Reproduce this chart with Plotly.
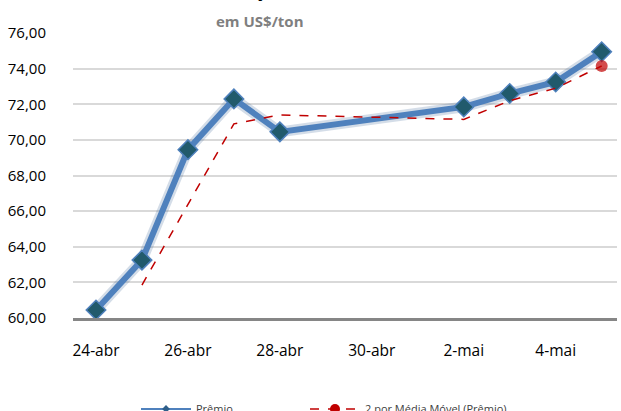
import plotly.graph_objects as go

# ---- data ----
dates = ["2017-04-24", "2017-04-25", "2017-04-26", "2017-04-27", "2017-04-28",
         "2017-05-02", "2017-05-03", "2017-05-04", "2017-05-05"]
premio = [60.45, 63.25, 69.45, 72.30, 70.45, 71.85, 72.60, 73.25, 74.95]
media_movel = [None, 61.85, 66.35, 70.90, 71.40, 71.15, 72.20, 72.90, 74.15]
mm_marker_sizes = [0, 0, 0, 0, 0, 0, 0, 0, 12]
tick_dates = ["2017-04-24", "2017-04-26", "2017-04-28", "2017-04-30", "2017-05-02", "2017-05-04"]
tick_labels = ["24-abr", "26-abr", "28-abr", "30-abr", "2-mai", "4-mai"]
y_ticks = [60, 62, 64, 66, 68, 70, 72, 74, 76]
name_premio = "Prêmio"
name_mm = "2 por Média Móvel (Prêmio)"
subtitle = "em US$/ton"
title = "Cotação"

W, H = 621, 411
L, R, T, B = 73, 4, 33, 93
plot_h = H - T - B

def py(px):
    # pixel row -> paper y
    return 1 - (px - T) / plot_h

def px_x(px):
    return (px - L) / (W - L - R)

fig = go.Figure()

# soft glow under main line
fig.add_trace(go.Scatter(x=dates, y=premio, mode="lines",
                         line=dict(color="rgba(60,100,150,0.22)", width=11),
                         hoverinfo="skip", showlegend=False))
fig.add_trace(go.Scatter(x=dates, y=premio, mode="lines+markers",
                         line=dict(color="#4F81BD", width=6),
                         marker=dict(symbol="diamond", size=15, color="#215A6C",
                                     line=dict(color="#4F81BD", width=1.5)),
                         showlegend=False, cliponaxis=False))
fig.add_trace(go.Scatter(x=dates, y=media_movel, mode="lines+markers",
                         line=dict(color="#C00000", width=1.5, dash="dash"),
                         marker=dict(symbol="circle", size=mm_marker_sizes, color="#C00000",
                                     line=dict(width=0)),
                         showlegend=False, cliponaxis=False))

# legend entries
fig.add_trace(go.Scatter(x=[None], y=[None], mode="lines+markers", name=name_premio,
                         line=dict(color="#4F81BD", width=2),
                         marker=dict(symbol="diamond", size=6, color="#2E5F8A"),
                         legend="legend"))
fig.add_trace(go.Scatter(x=[None], y=[None], mode="lines+markers", name=name_mm,
                         line=dict(color="#C00000", width=1.5, dash="dash"),
                         marker=dict(symbol="circle", size=10, color="#C00000"),
                         legend="legend2"))

fig.add_annotation(text="<b>%s</b>" % subtitle, xref="paper", yref="paper",
                   x=px_x(260), y=py(21), xanchor="center", yanchor="middle",
                   showarrow=False, font=dict(family="Open Sans", size=15, color="#7F7F7F"))
fig.add_annotation(text="<b>%s</b>" % title, xref="paper", yref="paper",
                   x=px_x(250), y=py(-10), xanchor="center", yanchor="middle",
                   showarrow=False, font=dict(family="Open Sans", size=18, color="#000000"))

legend_common = dict(orientation="h", yanchor="middle", xanchor="left",
                     font=dict(family="Open Sans", size=11, color="#404040"),
                     itemwidth=50, bgcolor="rgba(0,0,0,0)")

fig.update_layout(
    width=W, height=H,
    margin=dict(l=L, r=R, t=T, b=B, pad=0, autoexpand=False),
    paper_bgcolor="white", plot_bgcolor="white",
    separators=",.",
    font=dict(family="Open Sans", size=15, color="#000000"),
    showlegend=True,
    legend=dict(x=px_x(136), y=py(409), **legend_common),
    legend2=dict(x=px_x(305), y=py(409), **legend_common),
)
fig.update_xaxes(type="date", range=["2017-04-23 12:00", "2017-05-05 08:00"],
                 tickvals=tick_dates, ticktext=tick_labels, showgrid=False,
                 showline=True, linecolor="#868686", linewidth=2.5, ticks="",
                 tickfont=dict(size=15.5), ticklabelstandoff=17, zeroline=False)
fig.update_yaxes(range=[60, 76], tickvals=y_ticks, tickformat=".2f", showgrid=True,
                 gridcolor="#D9D9D9", gridwidth=1.5, showline=False, zeroline=False,
                 ticks="", tickfont=dict(size=15), ticklabelstandoff=26)

fig.write_html("out.html", config={"displayModeBar": False},
               post_script="document.body.style.margin='0';")
